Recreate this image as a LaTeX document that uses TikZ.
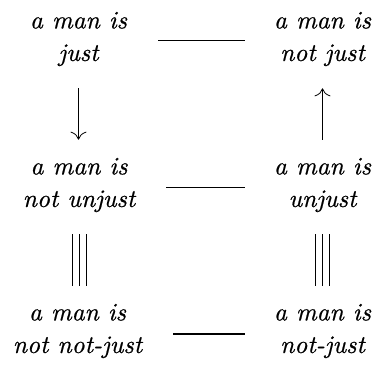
\documentclass[tikz,border=0pt]{standalone}
\usepackage{fontspec}
\newfontfamily\stmtfont{lmroman10-italic.otf}[FakeBold=0.6]
\usepackage{tikz}
\usetikzlibrary{arrows.meta,positioning,calc}
\tikzset{
  stmt/.style={
    align=center, inner sep=0pt,
    font=\fontsize{25.3}{32.5}\selectfont\stmtfont
  },
  opp/.style={draw=black, line width=1.3pt, shorten <=31pt, shorten >=29pt},
  arr/.style={-{To[length=8pt,width=16pt]}, draw=black, line width=0.8pt,
    shorten <=22pt, shorten >=18pt},
  uarr/.style={arr, shorten <=18pt, shorten >=22pt},
  eqv/.style={draw=black, line width=0.8pt, shorten <=22pt, shorten >=18pt}
}
\begin{document}
\begin{tikzpicture}[x=1pt,y=1pt]
  \useasboundingbox (0,0) rectangle (374,368);
  % the six statements
  \node[stmt] (tl) at (78.5,329) {a man is\\just};
  \node[stmt] (tr) at (322.5,329) {a man is\\not just};
  \node[stmt] (ml) at (79,183) {a man is\\not unjust};
  \node[stmt] (mr) at (322.5,183) {a man is\\unjust};
  \node[stmt] (bl) at (77.5,37) {a man is\\not not-just};
  \node[stmt] (br) at (322.5,37) {a man is\\not-just};
  % opposites
  \draw[opp] ([yshift=-1.5pt]tl.east) -- ([yshift=-1.5pt]tr.west);
  \draw[opp] ([yshift=-2.5pt]ml.east) -- ([yshift=-2.5pt]mr.west);
  \draw[opp] ([yshift=-3pt]bl.east) -- ([yshift=-3pt]br.west);
  % implications
  \draw[arr] (tl.south) -- (tl.south |- ml.north);
  \draw[uarr] (mr.north) -- (mr.north |- tr.south);
  % equivalences
  \foreach \dx in {-7,0,7} {
    \draw[eqv] ([xshift=\dx pt]ml.south) -- ([xshift=\dx pt]ml.south |- bl.north);
    \draw[eqv] ([xshift=\dx pt]mr.south) -- ([xshift=\dx pt]mr.south |- br.north);
  }
\end{tikzpicture}
\end{document}
